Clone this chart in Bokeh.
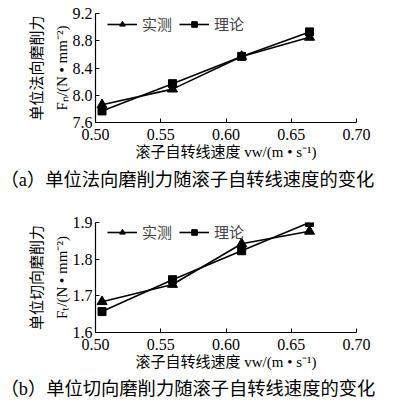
from bokeh.plotting import figure
from bokeh.layouts import column
from bokeh.models import Legend, LegendItem, Title, FixedTicker, Range1d
from bokeh.embed import file_html
from bokeh.resources import INLINE

# ---- data ----
speed = [0.505, 0.559, 0.612, 0.664]
fn_measured = [7.86, 8.09, 8.57, 8.85]
fn_theory = [7.77, 8.17, 8.57, 8.93]
ft_measured = [1.684, 1.731, 1.842, 1.876]
ft_theory = [1.657, 1.744, 1.823, 1.900]
x_ticks = [0.50, 0.55, 0.60, 0.65, 0.70]
fn_ticks = [7.6, 8.0, 8.4, 8.8, 9.2]
ft_ticks = [1.6, 1.7, 1.8, 1.9]
series_names = ["实测", "理论"]
x_label = "滚子自转线速度 vw/(m • s⁻¹)"
fn_label = "单位法向磨削力\nFₙ/(N • mm⁻²)"
ft_label = "单位切向磨削力\nFₜ/(N • mm⁻²)"
caption_a = "（a）单位法向磨削力随滚子自转线速度的变化"
caption_b = "（b）单位切向磨削力随滚子自转线速度的变化"

MIX = "Liberation Serif, Noto Sans CJK SC"
CJK = "Noto Sans CJK SC"
NUM = "Liberation Serif"


def make(meas, theo, yticks, ylabel, caption, height, top, frame_h, cap_standoff):
    p = figure(width=380, height=height, output_backend="svg", toolbar_location=None,
               x_range=Range1d(x_ticks[0], x_ticks[-1]),
               y_range=Range1d(yticks[0], yticks[-1]),
               min_border_left=95, min_border_right=24,
               min_border_top=top, min_border_bottom=height - top - frame_h)
    p.outline_line_color = None
    p.grid.visible = False
    p.background_fill_color = "white"
    p.border_fill_color = "white"

    for ax in (p.xaxis[0], p.yaxis[0]):
        ax.axis_line_color = "black"
        ax.axis_line_width = 1.2
        ax.major_tick_line_color = "black"
        ax.major_tick_in = 4
        ax.major_tick_out = 0
        ax.minor_tick_line_color = None
        ax.major_label_text_font = NUM
        ax.major_label_text_font_size = "16px"
        ax.major_label_text_color = "black"
        ax.axis_label_text_font = MIX
        ax.axis_label_text_font_size = "15px"
        ax.axis_label_text_font_style = "normal"
        ax.axis_label_text_color = "black"
    p.yaxis.axis_label_text_line_height = 1.55

    p.xaxis.ticker = FixedTicker(ticks=x_ticks)
    p.xaxis.major_label_overrides = {t: f"{t:.2f}" for t in x_ticks}
    p.yaxis.ticker = FixedTicker(ticks=yticks)
    p.yaxis.major_label_overrides = {t: f"{t:.1f}" for t in yticks}
    p.xaxis.axis_label = x_label
    p.yaxis.axis_label = ylabel
    p.xaxis.major_label_standoff = 6
    p.xaxis.axis_label_standoff = 1
    p.yaxis.major_label_standoff = 3
    p.yaxis.axis_label_standoff = 0

    l1 = p.line(speed, meas, line_color="black", line_width=1.6)
    s1 = p.scatter(speed, meas, marker="triangle", size=10, fill_color="black", line_color="black")
    l2 = p.line(speed, theo, line_color="black", line_width=1.6)
    s2 = p.scatter(speed, theo, marker="square", size=8, fill_color="black", line_color="black")

    leg = Legend(items=[LegendItem(label=series_names[0], renderers=[l1, s1]),
                        LegendItem(label=series_names[1], renderers=[l2, s2])],
                 orientation="horizontal", location=(12, frame_h - 21),
                 border_line_color=None, background_fill_alpha=0,
                 label_text_font=CJK, label_text_font_size="15px",
                 glyph_width=30, glyph_height=14, label_height=14,
                 label_standoff=5, spacing=7, padding=0, margin=0)
    p.add_layout(leg, "center")

    t = Title(text=caption, text_font=MIX, text_font_size="18.3px", text_font_style="normal",
              text_color="black", align="left", offset=-95, standoff=cap_standoff)
    p.add_layout(t, "below")
    return p


pa = make(fn_measured, fn_theory, fn_ticks, fn_label, caption_a, 196, 13, 109, 11)
pb = make(ft_measured, ft_theory, ft_ticks, ft_label, caption_b, 206, 26, 111, 8)

layout = column(pa, pb, spacing=0)
open("out.html", "w").write(file_html(layout, INLINE))
